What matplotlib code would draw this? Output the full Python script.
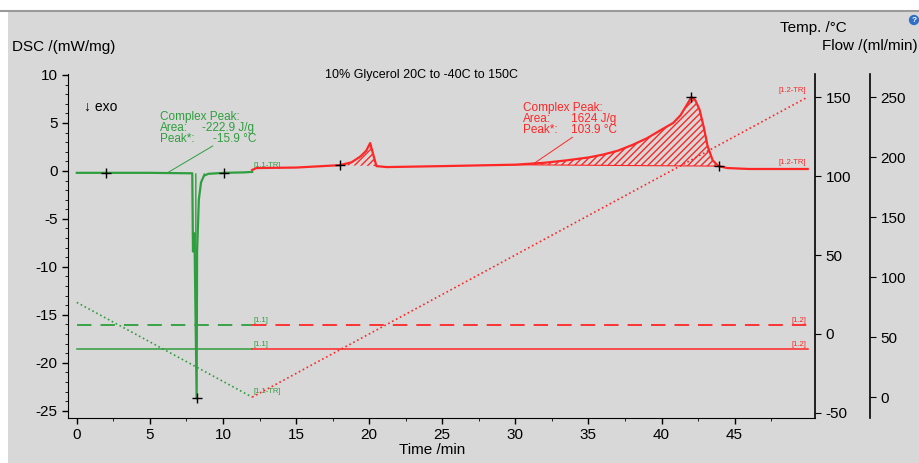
import numpy as np
import matplotlib
matplotlib.use("Agg")
import matplotlib.pyplot as plt
from matplotlib.patches import Rectangle
from matplotlib.lines import Line2D

plt.rcParams["font.family"] = ["Liberation Sans", "DejaVu Sans"]
plt.rcParams["axes.unicode_minus"] = False

# kolory
green = "#2f9e3e"
red = "#ff2626"
bg = "#d8d8d8"

# DSC - chłodzenie (zielony)
t_cool = [0, 2, 5, 7.9, 7.95, 8.05, 8.2, 8.23, 8.35, 8.5, 8.7, 9.0, 10.1, 11.5, 12.0]
dsc_cool = [-0.2, -0.2, -0.2, -0.25, -8.4, -6.5, -23.7, -8.4, -3.0, -1.2, -0.5, -0.3, -0.2, -0.15, -0.1]

# DSC - grzanie (czerwony)
t_heat = [12.0, 12.3, 15, 18.0, 18.8, 19.4, 19.8, 20.07, 20.3, 20.5, 21.2, 25, 30, 32, 33.5,
          35, 36, 37, 38, 39, 40, 40.8, 41.3, 41.7, 42.05, 42.3, 42.6, 42.9, 43.15, 43.5,
          43.9, 44.5, 46, 50]
dsc_heat = [0.1, 0.3, 0.35, 0.6, 0.9, 1.5, 2.1, 2.9, 1.6, 0.5, 0.4, 0.5, 0.65, 0.85, 1.1,
            1.4, 1.7, 2.1, 2.7, 3.4, 4.3, 5.0, 5.8, 6.8, 7.7, 7.4, 6.4, 4.5, 2.6, 1.1,
            0.5, 0.3, 0.2, 0.2]

# program temperatury
t_temp_cool = [0, 12]
temp_cool = [20, -40]
t_temp_heat = [12, 50]
temp_heat = [-40, 150]

# przepływy gazów
flow_dashed = 60
flow_solid = 40
t_switch = 12
t_end = 50

# punkty charakterystyczne
mark_t = [2.0, 10.1, 8.2, 18.0, 42.05, 43.9]
mark_dsc = [-0.2, -0.2, -23.7, 0.6, 7.7, 0.5]

fig = plt.figure(figsize=(9.2, 4.63), dpi=100, facecolor="white")
fig.add_artist(Rectangle((8 / 920, 0), 1, 1 - 12 / 463, transform=fig.transFigure,
                         facecolor=bg, edgecolor="none", zorder=-10))
fig.add_artist(Line2D([0.0, 1], [1 - 11 / 463] * 2, transform=fig.transFigure,
                      color="#9a9a9a", lw=1.5))

ax = fig.add_axes([68 / 920, 1 - 418 / 463, 747 / 920, 344 / 463])
ax.set_facecolor(bg)
ax.set_xlim(-0.6, 50.5)
ax.set_ylim(-25.75, 10.1)
for s in ["top", "right"]:
    ax.spines[s].set_visible(False)
ax.set_xticks(np.arange(0, 50, 5))
ax.set_xticks(np.arange(0, 50, 2.5), minor=True)
ax.set_yticks(np.arange(-25, 11, 5))
ax.set_yticks(np.arange(-25, 11, 1), minor=True)
ax.tick_params(labelsize=11, length=4, width=1)
ax.tick_params(which="minor", length=2)

# temperatura
ax2 = ax.twinx()
ax2.set_ylim(-53.2, 164.6)
ax2.set_yticks([-50, 0, 50, 100, 150])
ax2.spines["right"].set_linewidth(1.2)
for s in ["top", "left", "bottom"]:
    ax2.spines[s].set_visible(False)
ax2.tick_params(labelsize=11, length=4)

# przepływ
ax3 = ax.twinx()
ax3.set_ylim(-17.5, 269.2)
ax3.set_yticks([0, 50, 100, 150, 200, 250])
ax3.spines["right"].set_position(("axes", 1 + 55 / 747))
ax3.spines["right"].set_linewidth(1.2)
for s in ["top", "left", "bottom"]:
    ax3.spines[s].set_visible(False)
ax3.tick_params(labelsize=11, length=4)

# krzywe przepływu
ax3.plot([0, t_switch], [flow_dashed] * 2, color=green, lw=1.3, ls=(0, (8, 5)))
ax3.plot([t_switch, t_end], [flow_dashed] * 2, color=red, lw=1.3, ls=(0, (8, 5)))
ax3.plot([0, t_switch], [flow_solid] * 2, color=green, lw=1.1)
ax3.plot([t_switch, t_end], [flow_solid] * 2, color=red, lw=1.1)

# temperatura
ax2.plot(t_temp_cool, temp_cool, color=green, lw=1.2, ls=":")
ax2.plot(t_temp_heat, temp_heat, color=red, lw=1.2, ls=":")

# DSC
ax.plot(t_cool, dsc_cool, color=green, lw=1.6, zorder=5)
ax.plot(t_heat, dsc_heat, color=red, lw=1.6, zorder=5)

# zakreskowane piki
th = np.array(t_heat)
dh = np.array(dsc_heat)
m1 = (th >= 18.0) & (th <= 20.5)
base1 = np.interp(th[m1], [18.0, 20.5], [0.6, 0.5])
ax.fill_between(th[m1], base1, dh[m1], facecolor="none", edgecolor=red, hatch="/////", lw=0)
m2 = (th >= 30) & (th <= 43.9)
base2 = np.interp(th[m2], [30, 43.9], [0.65, 0.5])
ax.fill_between(th[m2], base2, dh[m2], facecolor="none", edgecolor=red, hatch="/////", lw=0)
ax.plot([29, 43.9], [0.65, 0.5], color=red, lw=0.8)
tc = np.array(t_cool)
dc = np.array(dsc_cool)
m3 = (tc >= 7.9) & (tc <= 9.0)
ax.fill_between(tc[m3], -0.25, dc[m3], facecolor="none", edgecolor=green, hatch="||", lw=0)

ax.plot(mark_t, mark_dsc, "k+", ms=7, mew=1, zorder=6)

# opisy pików
fs = 8.5
ax.text(5.68, 5.6, "Complex Peak:", color=green, fontsize=fs, va="center")
ax.text(5.68, 4.5, "Area:", color=green, fontsize=fs, va="center")
ax.text(8.6, 4.5, "-222.9 J/g", color=green, fontsize=fs, va="center")
ax.text(5.68, 3.35, "Peak*:", color=green, fontsize=fs, va="center")
ax.text(9.3, 3.35, "-15.9 °C", color=green, fontsize=fs, va="center")
ax.plot([9.3, 6.2], [2.6, -0.2], color=green, lw=0.7)

ax.text(30.5, 6.6, "Complex Peak:", color=red, fontsize=fs, va="center")
ax.text(30.5, 5.4, "Area:", color=red, fontsize=fs, va="center")
ax.text(33.8, 5.4, "1624 J/g", color=red, fontsize=fs, va="center")
ax.text(30.5, 4.25, "Peak*:", color=red, fontsize=fs, va="center")
ax.text(33.8, 4.25, "103.9 °C", color=red, fontsize=fs, va="center")
ax.plot([33.9, 31.2], [3.5, 0.7], color=red, lw=0.7)

# etykiety segmentów
ls = 5.5
ax.text(12.1, 0.6, "[1.1-TR]", color=green, fontsize=ls, va="center")
ax.text(12.1, -16.0, "[1.1]", color=green, fontsize=ls, va="bottom")
ax.text(12.1, -18.5, "[1.1]", color=green, fontsize=ls, va="bottom")
ax.text(12.1, -23.0, "[1.1-TR]", color=green, fontsize=ls, va="center")
ax.text(49.9, 8.4, "[1.2-TR]", color=red, fontsize=ls, va="center", ha="right")
ax.text(49.9, 0.5, "[1.2-TR]", color=red, fontsize=ls, va="bottom", ha="right")
ax.text(49.9, -16.0, "[1.2]", color=red, fontsize=ls, va="bottom", ha="right")
ax.text(49.9, -18.5, "[1.2]", color=red, fontsize=ls, va="bottom", ha="right")

# teksty
fig.text(422 / 920, 1 - 75 / 463, "10% Glycerol 20C to -40C to 150C", fontsize=9,
         ha="center", va="center")
fig.text(84 / 920, 1 - 107 / 463, "↓ exo", fontsize=10, va="center")
fig.text(12 / 920, 1 - 47 / 463, "DSC /(mW/mg)", fontsize=11, va="center")
fig.text(780 / 920, 1 - 28 / 463, "Temp. /°C", fontsize=11, va="center")
fig.text(918 / 920, 1 - 46 / 463, "Flow /(ml/min)", fontsize=11, va="center", ha="right")
fig.text(432 / 920, 1 - 450 / 463, "Time /min", fontsize=11, va="center", ha="center")
fig.text(914 / 920, 1 - 20 / 463, "?", fontsize=6, color="white", ha="center", va="center",
         fontweight="bold",
         bbox=dict(boxstyle="circle,pad=0.2", facecolor="#2f6fc9", edgecolor="none"))

fig.savefig("out.png", dpi=100, facecolor=fig.get_facecolor())
